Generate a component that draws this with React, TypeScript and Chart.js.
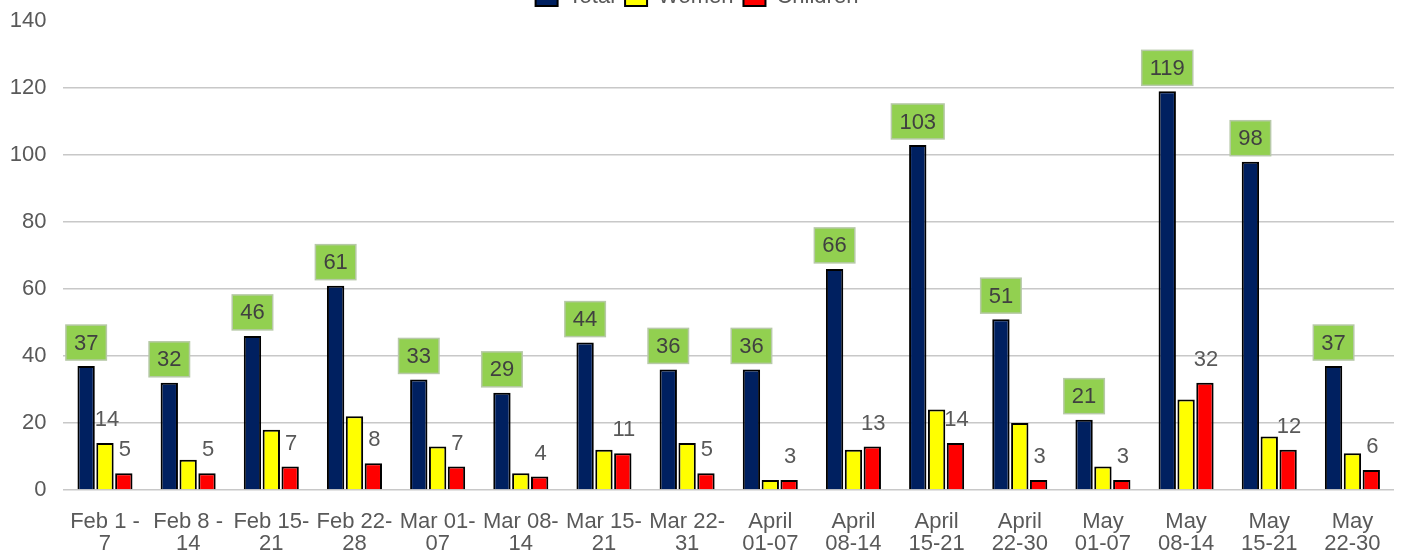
import React, { useEffect, useRef } from "react";
import { Chart, registerables } from "chart.js";

Chart.register(...registerables);

const categories: string[][] = [
  ["Feb 1 -", "7"],
  ["Feb 8 -", "14"],
  ["Feb 15-", "21"],
  ["Feb 22-", "28"],
  ["Mar 01-", "07"],
  ["Mar 08-", "14"],
  ["Mar 15-", "21"],
  ["Mar 22-", "31"],
  ["April", "01-07"],
  ["April", "08-14"],
  ["April", "15-21"],
  ["April", "22-30"],
  ["May", "01-07"],
  ["May", "08-14"],
  ["May", "15-21"],
  ["May", "22-30"],
];

const totalValues = [37, 32, 46, 61, 33, 29, 44, 36, 36, 66, 103, 51, 21, 119, 98, 37];
const womenValues = [14, 9, 18, 22, 13, 5, 12, 14, 3, 12, 24, 20, 7, 27, 16, 11];
const childrenValues = [5, 5, 7, 8, 7, 4, 11, 5, 3, 13, 14, 3, 3, 32, 12, 6];
const womenLabelIndices = [0];
const yTicks = [0, 20, 40, 60, 80, 100, 120, 140];

const FONT = "'Liberation Sans', Arial, sans-serif";

const labelsPlugin = {
  id: "customLabels",
  afterDatasetsDraw(chart: any) {
    const ctx = chart.ctx;
    ctx.save();
    ctx.font = `22px ${FONT}`;
    ctx.textAlign = "center";
    ctx.textBaseline = "middle";
    const m0 = chart.getDatasetMeta(0);
    m0.data.forEach((bar: any, i: number) => {
      const txt = String(totalValues[i]);
      const w = ctx.measureText(txt).width + 16;
      const h = 35;
      const x = bar.x - w / 2;
      const y = bar.y - 6 - h;
      ctx.fillStyle = "#92D050";
      ctx.fillRect(x, y, w, h);
      ctx.strokeStyle = "#B7C9A8";
      ctx.lineWidth = 1.5;
      ctx.strokeRect(x, y, w, h);
      ctx.fillStyle = "#404040";
      ctx.fillText(txt, bar.x, y + h / 2 + 1);
    });
    ctx.fillStyle = "#595959";
    const m1 = chart.getDatasetMeta(1);
    womenLabelIndices.forEach((i) => {
      const bar: any = m1.data[i];
      ctx.fillText(String(womenValues[i]), bar.x + 2, bar.y - 23);
    });
    const m2 = chart.getDatasetMeta(2);
    m2.data.forEach((bar: any, i: number) => {
      ctx.fillText(String(childrenValues[i]), bar.x + 1, bar.y - 23);
    });
    ctx.restore();
  },
};

const legendHeightPlugin = {
  id: "legendHeight",
  beforeInit(chart: any) {
    const l = chart.legend;
    if (!l) return;
    const fit = l.fit;
    l.fit = function () {
      fit.call(this);
      this.height = 45;
    };
  },
};

export default function App() {
  const ref = useRef<HTMLCanvasElement>(null);
  useEffect(() => {
    if (!ref.current) return;
    const common = { borderColor: "#000000", borderWidth: 2, categoryPercentage: 0.68, barPercentage: 0.92 };
    const chart = new Chart(ref.current, {
      type: "bar",
      data: {
        labels: categories,
        datasets: [
          { label: "Total", data: totalValues, backgroundColor: "#002060", ...common },
          { label: "Women", data: womenValues, backgroundColor: "#FFFF00", ...common },
          { label: "Children", data: childrenValues, backgroundColor: "#FF0000", ...common },
        ],
      },
      options: {
        animation: false,
        responsive: false,
        maintainAspectRatio: false,
        layout: { padding: { left: 0, right: 9, top: 0, bottom: 0 } },
        plugins: {
          legend: {
            position: "top",
            labels: {
              boxWidth: 22,
              boxHeight: 18,
              padding: 10,
              color: "#595959",
              font: { size: 22, family: FONT },
            },
          },
          tooltip: { enabled: false },
        },
        scales: {
          x: {
            grid: { display: false, drawTicks: false },
            border: { display: false },
            ticks: {
              color: "#595959",
              font: { size: 22, family: FONT, lineHeight: 1.0 },
              padding: 21,
              maxRotation: 0,
              autoSkip: false,
            },
            afterFit(scale: any) {
              scale.height = 65;
            },
          },
          y: {
            min: 0,
            max: 140,
            afterBuildTicks(scale: any) {
              scale.ticks = yTicks.map((v) => ({ value: v }));
            },
            grid: {
              drawTicks: false,
              lineWidth: 1.5,
              color: (c: any) => (c.tick && c.tick.value === 140 ? "rgba(0,0,0,0)" : "#C8C8C8"),
            },
            border: { display: false },
            ticks: {
              color: "#595959",
              font: { size: 22, family: FONT },
              padding: 17,
            },
            afterFit(scale: any) {
              scale.width = 63.4;
            },
          },
        },
      },
      plugins: [legendHeightPlugin, labelsPlugin],
    });
    return () => chart.destroy();
  }, []);
  return (
    <div style={{ position: "absolute", left: 0, top: -24, width: 1403, height: 579 }}>
      <canvas ref={ref} width={1403} height={579} style={{ width: 1403, height: 579, display: "block" }} />
    </div>
  );
}
